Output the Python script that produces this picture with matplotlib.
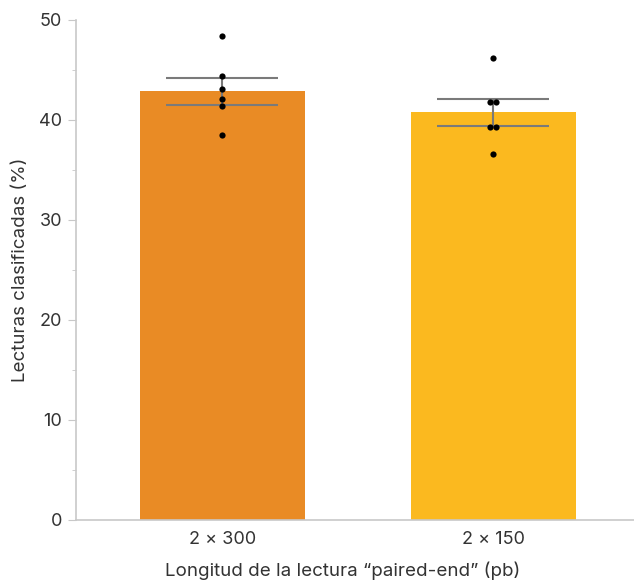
import matplotlib
matplotlib.use("Agg")
import matplotlib.pyplot as plt
import numpy as np

categories = ["2 × 300", "2 × 150"]
means = [42.9, 40.8]
errors = [1.35, 1.35]
points_300 = [48.43, 44.43, 43.1, 42.07, 41.37, 38.47]
points_150 = [46.17, 41.77, 41.77, 39.33, 39.33, 36.6]
bar_colors = ["#E98B25", "#FBB91F"]

plt.rcParams['font.family'] = ['Inter', 'DejaVu Sans']
text_color = "#333333"

fig = plt.figure(figsize=(6.34, 5.83), dpi=100)
ax = fig.add_axes([76/634, 1-520/583, 1-76/634, (520-20)/583])

x = np.arange(len(categories))
ax.bar(x, means, width=0.61, color=bar_colors, zorder=1)
ax.errorbar(x, means, yerr=errors, fmt='none', ecolor="#7a7a7a",
            elinewidth=1.5, capsize=40, capthick=1.5, zorder=2)

for xi, pts in zip(x, [points_300, points_150]):
    pts = np.asarray(pts)
    offs = np.zeros(len(pts))
    vals, counts = np.unique(pts, return_counts=True)
    for v, c in zip(vals, counts):
        if c > 1:
            idx = np.where(pts == v)[0]
            offs[idx] = (np.arange(c) - (c-1)/2) * 0.024
    ax.scatter(xi + offs, pts, s=20, color="black", zorder=3, linewidths=0)

ax.set_xlim(-0.54, 1.52)
ax.set_ylim(0, 50)
ax.set_yticks([0, 10, 20, 30, 40, 50])
ax.set_yticks([5, 15, 25, 35, 45], minor=True)
ax.set_xticks(x)
ax.set_xticklabels(categories)

for s in ["top", "right"]:
    ax.spines[s].set_visible(False)
for s in ["left", "bottom"]:
    ax.spines[s].set_color("#c8c8c8")
    ax.spines[s].set_linewidth(1.2)

ax.tick_params(axis='y', which='major', length=6, color="#c8c8c8", labelsize=13,
               labelcolor=text_color, pad=4)
ax.tick_params(axis='y', which='minor', length=3, color="#c8c8c8")
ax.tick_params(axis='x', length=0, labelsize=13, labelcolor=text_color, pad=8)

ax.set_ylabel("Lecturas clasificadas (%)", fontsize=13.5, color=text_color, labelpad=7)
ax.set_xlabel("Longitud de la lectura “paired-end” (pb)", fontsize=13.5, color=text_color)
ax.xaxis.set_label_coords(0.478, -0.082)

fig.savefig("out.png", dpi=100)
